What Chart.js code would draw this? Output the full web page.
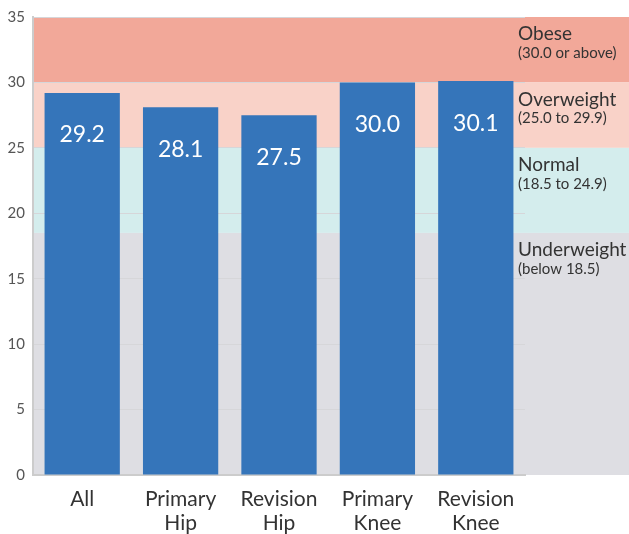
<!DOCTYPE html>
<html>
<head>
<meta charset="utf-8">
<script src="https://cdn.jsdelivr.net/npm/chart.js@4/dist/chart.umd.min.js"></script>
<style>
  html, body { margin: 0; padding: 0; background: #ffffff; }
  #wrap { width: 629px; height: 534px; position: relative; }
</style>
</head>
<body>
<div id="wrap"><canvas id="c" width="629" height="534"></canvas></div>
<script>
// Mean BMI by procedure group
const categories = [["All"], ["Primary", "Hip"], ["Revision", "Hip"], ["Primary", "Knee"], ["Revision", "Knee"]];
const meanBmi = [29.2, 28.1, 27.5, 30.0, 30.1];
const yTicks = [0, 5, 10, 15, 20, 25, 30, 35];

// BMI classification bands
const bandNames = ["Obese", "Overweight", "Normal", "Underweight"];
const bandRanges = ["(30.0 or above)", "(25.0 to 29.9)", "(18.5 to 24.9)", "(below 18.5)"];
const bandFrom = [30, 25, 18.5, 0];
const bandTo = [35, 30, 25, 18.5];
const bandColors = ["#f2a899", "#f9d2c8", "#d4eded", "#dedee3"];

const FONT = "Lato, 'Open Sans', sans-serif";

const bandPlugin = {
  id: 'bmiBands',
  beforeDraw(chart) {
    const { ctx, chartArea, scales } = chart;
    const y = scales.y;
    const right = chart.width;
    ctx.save();
    for (let i = 0; i < bandNames.length; i++) {
      const top = y.getPixelForValue(bandTo[i]);
      const bottom = y.getPixelForValue(bandFrom[i]);
      ctx.fillStyle = bandColors[i];
      ctx.fillRect(chartArea.left, top, right - chartArea.left, bottom - top);
    }
    ctx.restore();
  },
  afterDraw(chart) {
    const { ctx, chartArea, scales } = chart;
    const y = scales.y;
    const x0 = chartArea.right - 7;
    ctx.save();
    ctx.fillStyle = "#333333";
    ctx.textAlign = "left";
    ctx.textBaseline = "middle";
    for (let i = 0; i < bandNames.length; i++) {
      const top = y.getPixelForValue(bandTo[i]);
      ctx.font = "19px " + FONT;
      ctx.fillText(bandNames[i], x0, top + 17);
      ctx.font = "15px " + FONT;
      ctx.fillText(bandRanges[i], x0, top + 36);
    }
    ctx.restore();
  }
};

const valueLabelPlugin = {
  id: 'valueLabels',
  afterDatasetsDraw(chart) {
    const { ctx } = chart;
    const meta = chart.getDatasetMeta(0);
    ctx.save();
    ctx.fillStyle = "#ffffff";
    ctx.font = "23px " + FONT;
    ctx.textAlign = "center";
    ctx.textBaseline = "middle";
    meta.data.forEach((bar, i) => {
      ctx.fillText(meanBmi[i].toFixed(1), bar.x, bar.y + 42);
    });
    ctx.restore();
  }
};

new Chart(document.getElementById('c'), {
  type: 'bar',
  data: {
    labels: categories,
    datasets: [{
      data: meanBmi,
      backgroundColor: "#3575ba",
      borderWidth: 0,
      categoryPercentage: 1.0,
      barPercentage: 0.765
    }]
  },
  options: {
    responsive: false,
    animation: false,
    devicePixelRatio: 1,
    layout: { padding: { top: 16, right: 104, bottom: 0, left: 0 } },
    plugins: { legend: { display: false }, tooltip: { enabled: false } },
    scales: {
      x: {
        grid: { display: false, drawTicks: false },
        border: { display: true, color: "#cccccc", width: 2 },
        ticks: { color: "#333333", font: { family: FONT, size: 21, lineHeight: 1.15 }, padding: 12, maxRotation: 0 },
        afterFit(scale) { scale.height = 59; }
      },
      y: {
        min: 0, max: 35,
        afterBuildTicks(scale) { scale.ticks = yTicks.map(v => ({ value: v })); },
        grid: { color: "#d6d6d9", lineWidth: 1, drawTicks: false },
        border: { display: true, color: "#cccccc", width: 2 },
        ticks: { color: "#555555", font: { family: FONT, size: 15 }, padding: 8 },
        afterFit(scale) { scale.width = 33; }
      }
    }
  },
  plugins: [bandPlugin, valueLabelPlugin]
});
</script>
</body>
</html>
